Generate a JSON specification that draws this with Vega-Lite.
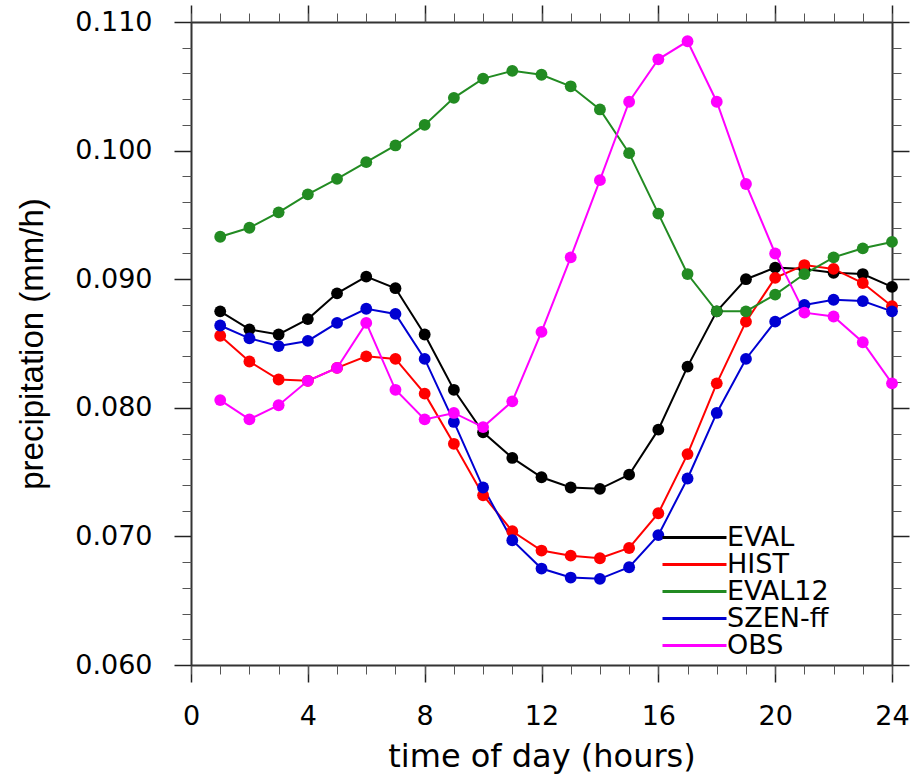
{
  "$schema": "https://vega.github.io/schema/vega-lite/v6.json",
  "width": 701,
  "height": 643,
  "autosize": {"type": "none"},
  "padding": {"left": 191, "top": 22, "right": 19, "bottom": 112},
  "background": "white",
  "config": {
    "view": {"stroke": null},
    "font": "DejaVu Sans",
    "axis": {"grid": false, "labelColor": "black", "titleColor": "black", "titleFontWeight": "normal", "domainColor": "#333", "domainWidth": 2, "tickColor": "#222", "tickWidth": 1.5, "labelFlush": false, "labelOverlap": false}
  },
  "datasets": {
    "d": [
      {"h":1,"s":"EVAL","v":0.0875},{"h":2,"s":"EVAL","v":0.0861},{"h":3,"s":"EVAL","v":0.0857},{"h":4,"s":"EVAL","v":0.0869},{"h":5,"s":"EVAL","v":0.0889},{"h":6,"s":"EVAL","v":0.0902},{"h":7,"s":"EVAL","v":0.0893},{"h":8,"s":"EVAL","v":0.0857},{"h":9,"s":"EVAL","v":0.0814},{"h":10,"s":"EVAL","v":0.0781},{"h":11,"s":"EVAL","v":0.0761},{"h":12,"s":"EVAL","v":0.0746},{"h":13,"s":"EVAL","v":0.0738},{"h":14,"s":"EVAL","v":0.0737},{"h":15,"s":"EVAL","v":0.0748},{"h":16,"s":"EVAL","v":0.0783},{"h":17,"s":"EVAL","v":0.0832},{"h":18,"s":"EVAL","v":0.0875},{"h":19,"s":"EVAL","v":0.0900},{"h":20,"s":"EVAL","v":0.0909},{"h":21,"s":"EVAL","v":0.0908},{"h":22,"s":"EVAL","v":0.0905},{"h":23,"s":"EVAL","v":0.0904},{"h":24,"s":"EVAL","v":0.0894},
      {"h":1,"s":"HIST","v":0.0856},{"h":2,"s":"HIST","v":0.0836},{"h":3,"s":"HIST","v":0.0822},{"h":4,"s":"HIST","v":0.0821},{"h":5,"s":"HIST","v":0.0831},{"h":6,"s":"HIST","v":0.0840},{"h":7,"s":"HIST","v":0.0838},{"h":8,"s":"HIST","v":0.0811},{"h":9,"s":"HIST","v":0.0772},{"h":10,"s":"HIST","v":0.0732},{"h":11,"s":"HIST","v":0.0704},{"h":12,"s":"HIST","v":0.0689},{"h":13,"s":"HIST","v":0.0685},{"h":14,"s":"HIST","v":0.0683},{"h":15,"s":"HIST","v":0.0691},{"h":16,"s":"HIST","v":0.0718},{"h":17,"s":"HIST","v":0.0764},{"h":18,"s":"HIST","v":0.0819},{"h":19,"s":"HIST","v":0.0867},{"h":20,"s":"HIST","v":0.0901},{"h":21,"s":"HIST","v":0.0911},{"h":22,"s":"HIST","v":0.0908},{"h":23,"s":"HIST","v":0.0897},{"h":24,"s":"HIST","v":0.0879},
      {"h":1,"s":"EVAL12","v":0.0933},{"h":2,"s":"EVAL12","v":0.0940},{"h":3,"s":"EVAL12","v":0.0952},{"h":4,"s":"EVAL12","v":0.0966},{"h":5,"s":"EVAL12","v":0.0978},{"h":6,"s":"EVAL12","v":0.0991},{"h":7,"s":"EVAL12","v":0.1004},{"h":8,"s":"EVAL12","v":0.1020},{"h":9,"s":"EVAL12","v":0.1041},{"h":10,"s":"EVAL12","v":0.1056},{"h":11,"s":"EVAL12","v":0.1062},{"h":12,"s":"EVAL12","v":0.1059},{"h":13,"s":"EVAL12","v":0.1050},{"h":14,"s":"EVAL12","v":0.1032},{"h":15,"s":"EVAL12","v":0.0998},{"h":16,"s":"EVAL12","v":0.0951},{"h":17,"s":"EVAL12","v":0.0904},{"h":18,"s":"EVAL12","v":0.0875},{"h":19,"s":"EVAL12","v":0.0875},{"h":20,"s":"EVAL12","v":0.0888},{"h":21,"s":"EVAL12","v":0.0904},{"h":22,"s":"EVAL12","v":0.0917},{"h":23,"s":"EVAL12","v":0.0924},{"h":24,"s":"EVAL12","v":0.0929},
      {"h":1,"s":"SZEN-ff","v":0.0864},{"h":2,"s":"SZEN-ff","v":0.0854},{"h":3,"s":"SZEN-ff","v":0.0848},{"h":4,"s":"SZEN-ff","v":0.0852},{"h":5,"s":"SZEN-ff","v":0.0866},{"h":6,"s":"SZEN-ff","v":0.0877},{"h":7,"s":"SZEN-ff","v":0.0873},{"h":8,"s":"SZEN-ff","v":0.0838},{"h":9,"s":"SZEN-ff","v":0.0789},{"h":10,"s":"SZEN-ff","v":0.0738},{"h":11,"s":"SZEN-ff","v":0.0697},{"h":12,"s":"SZEN-ff","v":0.0675},{"h":13,"s":"SZEN-ff","v":0.0668},{"h":14,"s":"SZEN-ff","v":0.0667},{"h":15,"s":"SZEN-ff","v":0.0676},{"h":16,"s":"SZEN-ff","v":0.0701},{"h":17,"s":"SZEN-ff","v":0.0745},{"h":18,"s":"SZEN-ff","v":0.0796},{"h":19,"s":"SZEN-ff","v":0.0838},{"h":20,"s":"SZEN-ff","v":0.0867},{"h":21,"s":"SZEN-ff","v":0.0880},{"h":22,"s":"SZEN-ff","v":0.0884},{"h":23,"s":"SZEN-ff","v":0.0883},{"h":24,"s":"SZEN-ff","v":0.0875},
      {"h":1,"s":"OBS","v":0.0806},{"h":2,"s":"OBS","v":0.0791},{"h":3,"s":"OBS","v":0.0802},{"h":4,"s":"OBS","v":0.0821},{"h":5,"s":"OBS","v":0.0831},{"h":6,"s":"OBS","v":0.0866},{"h":7,"s":"OBS","v":0.0814},{"h":8,"s":"OBS","v":0.0791},{"h":9,"s":"OBS","v":0.0796},{"h":10,"s":"OBS","v":0.0785},{"h":11,"s":"OBS","v":0.0805},{"h":12,"s":"OBS","v":0.0859},{"h":13,"s":"OBS","v":0.0917},{"h":14,"s":"OBS","v":0.0977},{"h":15,"s":"OBS","v":0.1038},{"h":16,"s":"OBS","v":0.1071},{"h":17,"s":"OBS","v":0.1085},{"h":18,"s":"OBS","v":0.1038},{"h":19,"s":"OBS","v":0.0974},{"h":20,"s":"OBS","v":0.0920},{"h":21,"s":"OBS","v":0.0874},{"h":22,"s":"OBS","v":0.0871},{"h":23,"s":"OBS","v":0.0851},{"h":24,"s":"OBS","v":0.0819}
    ]
  },
  "data": {"name": "d"},
  "layer": [
    {
      "mark": {"type": "line", "strokeWidth": 2, "point": {"filled": true, "size": 140, "opacity": 1}},
      "encoding": {
        "x": {"field": "h", "type": "quantitative", "scale": {"domain": [0, 24], "nice": false},
          "axis": {"orient": "bottom", "values": [0, 4, 8, 12, 16, 20, 24], "tickSize": 17, "labelFont": "DejaVu Sans", "labelFontSize": 27, "labelPadding": 21, "title": "time of day (hours)", "titleFont": "DejaVu Sans", "titleFontSize": 32, "titlePadding": 12}},
        "y": {"field": "v", "type": "quantitative", "scale": {"domain": [0.06, 0.11], "nice": false, "zero": false},
          "axis": {"orient": "left", "values": [0.06, 0.07, 0.08, 0.09, 0.1, 0.11], "format": ".3f", "tickSize": 17, "labelFont": "DejaVu Sans", "labelFontSize": 27, "labelPadding": 22, "title": "precipitation (mm/h)", "titleFont": "Liberation Sans", "titleFontSize": 33, "titlePadding": 25}},
        "color": {"field": "s", "type": "nominal", "sort": null,
          "scale": {"domain": ["EVAL", "HIST", "EVAL12", "SZEN-ff", "OBS"], "range": ["#000000", "#ff0000", "#228b22", "#0000d2", "#ff00ff"]},
          "legend": {"orient": "none", "legendX": 490, "legendY": 502, "title": null, "symbolType": "M-4,0H4", "symbolSize": 256, "symbolStrokeWidth": 3, "labelFont": "DejaVu Sans", "labelFontSize": 27, "labelColor": "black", "labelOffset": 19, "rowPadding": -1, "padding": 0}}
      }
    },
    {
      "mark": {"type": "point", "opacity": 0},
      "encoding": {
        "x": {"field": "h", "type": "quantitative", "axis": {"orient": "bottom", "values": [0,1,2,3,4,5,6,7,8,9,10,11,12,13,14,15,16,17,18,19,20,21,22,23,24], "tickSize": 9, "tickWidth": 1, "tickColor": "#555", "labels": false, "domain": false, "title": null}},
        "y": {"field": "v", "type": "quantitative", "axis": {"orient": "left", "values": [0.062,0.064,0.066,0.068,0.072,0.074,0.076,0.078,0.082,0.084,0.086,0.088,0.092,0.094,0.096,0.098,0.102,0.104,0.106,0.108], "tickSize": 9, "tickWidth": 1, "tickColor": "#555", "labels": false, "domain": false, "title": null}}
      }
    },
    {
      "mark": {"type": "point", "opacity": 0},
      "encoding": {
        "x": {"field": "h", "type": "quantitative", "axis": {"orient": "top", "values": [0, 4, 8, 12, 16, 20, 24], "tickSize": 17, "labels": false, "title": null}},
        "y": {"field": "v", "type": "quantitative", "axis": {"orient": "right", "values": [0.06, 0.07, 0.08, 0.09, 0.1, 0.11], "tickSize": 17, "labels": false, "title": null}}
      }
    },
    {
      "mark": {"type": "point", "opacity": 0},
      "encoding": {
        "x": {"field": "h", "type": "quantitative", "axis": {"orient": "top", "values": [0,1,2,3,4,5,6,7,8,9,10,11,12,13,14,15,16,17,18,19,20,21,22,23,24], "tickSize": 9, "tickWidth": 1, "tickColor": "#555", "labels": false, "domain": false, "title": null}},
        "y": {"field": "v", "type": "quantitative", "axis": {"orient": "right", "values": [0.062,0.064,0.066,0.068,0.072,0.074,0.076,0.078,0.082,0.084,0.086,0.088,0.092,0.094,0.096,0.098,0.102,0.104,0.106,0.108], "tickSize": 9, "tickWidth": 1, "tickColor": "#555", "labels": false, "domain": false, "title": null}}
      }
    }
  ],
  "resolve": {"axis": {"x": "independent", "y": "independent"}}
}
